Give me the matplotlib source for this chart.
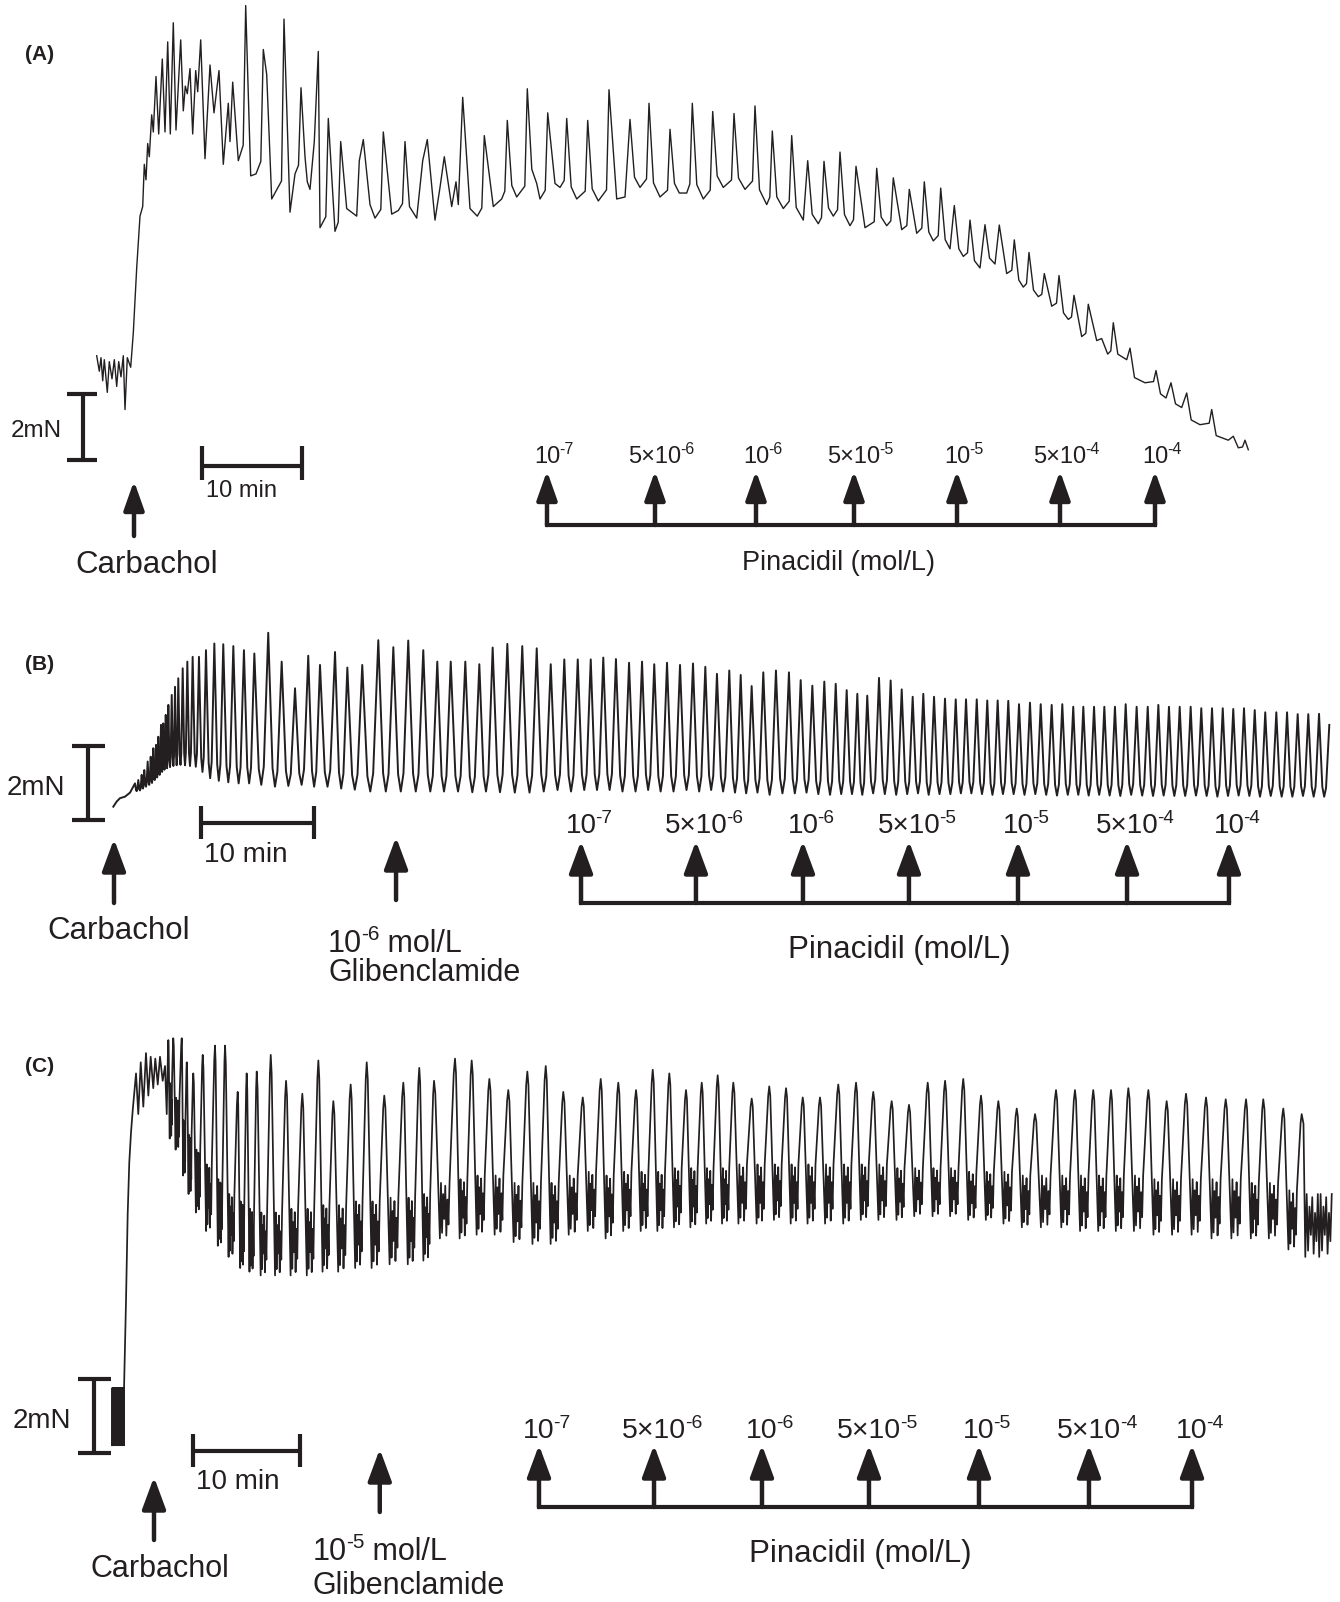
import matplotlib
matplotlib.use("Agg")
import matplotlib.pyplot as plt
import matplotlib.transforms as mtransforms

plt.rcParams['font.family'] = ['Liberation Sans', 'DejaVu Sans']

INK = '#231f20'

# ---------------- data (time in min from carbachol, force in mN) ----------------
# panel A: turning points of the trace
a_t = [-3.73, -3.47, -3.3, -3.13, -2.97, -2.67, -2.47, -2.2, -1.97, -1.73,
       -1.53, -1.3, -1.07, -0.9, -0.67, -0.33, -0.07, 0.27, 0.6, 0.87,
       1.03, 1.2, 1.37, 1.53, 1.77, 1.93, 2.2, 2.47, 2.83, 3.1,
       3.37, 3.63, 3.93, 4.2, 4.67, 4.93, 5.13, 5.33, 5.6, 5.87,
       6.17, 6.37, 6.67, 7.1, 7.6, 8.0, 8.5, 8.93, 9.43, 9.6,
       9.87, 10.43, 11.17, 11.67, 12.2, 12.93, 13.27, 13.77, 15.0, 15.6,
       16.1, 16.7, 17.1, 17.33, 17.6, 18.03, 18.43, 18.6, 19.43, 20.1,
       20.67, 21.27, 22.27, 22.53, 22.93, 23.6, 24.1, 24.93, 25.77, 26.43,
       27.1, 28.27, 28.87, 29.33, 30.1, 30.6, 31.03,
       31.77, 32.2, 32.43, 32.87, 33.6, 34.33, 35.03, 35.93, 36.77, 37.33,
       38.27, 39.33, 40.27, 40.6, 41.37, 42.1, 42.6, 43.27, 44.27, 45.37,
       46.43, 47.5, 48.27, 49.1, 49.6, 50.6, 51.5, 52.6, 53.6, 54.53,
       55.27, 55.83, 56.93, 57.87, 58.93, 60.0, 61.1, 62.1, 63.27, 63.83,
       64.93, 65.77, 66.93, 67.37, 68.43, 69.0, 69.93, 70.6, 71.6, 72.2,
       73.1, 74.27, 75.27,
       75.93, 76.77, 77.53, 78.27, 79.03, 79.93, 80.67, 81.6, 82.03, 82.93,
       83.6, 84.6, 85.1, 86.1, 86.53, 87.27, 88.03, 88.93, 89.5, 90.43,
       91.03, 91.77, 92.5, 93.43, 94.0, 94.77, 95.43, 96.27, 96.77, 97.37,
       97.93, 99.27, 99.6, 101.1, 102.2, 103.2, 103.7, 104.77, 105.27, 106.6,
       107.77, 109.43, 109.93, 110.43, 111.1, 111.43]
a_f = [3.16, 2.69, 3.10, 2.40, 3.04, 2.05, 2.98, 2.46, 3.04, 2.23,
       2.98, 2.52, 3.16, 1.53, 3.10, 2.81, 3.85, 5.82, 7.39, 7.68,
       8.96, 8.49, 9.59, 9.19, 10.46, 9.94, 11.62, 9.88, 12.15, 9.94,
       12.67, 9.88, 13.25, 10.0, 12.73, 10.58, 11.33, 11.1, 11.86, 9.88,
       11.8, 11.16, 12.73, 9.13, 11.97, 10.52, 11.8, 8.96, 10.81, 9.65,
       11.45, 9.07, 13.77, 8.61, 8.67, 12.44, 11.68, 7.91, 13.36, 7.51,
       8.67, 11.28, 9.19, 8.43, 8.2, 9.65, 12.38, 7.04, 10.35, 6.93,
       9.65, 7.62, 7.39, 9.07, 9.71, 7.74, 7.33, 9.94, 7.45, 7.56,
       9.65, 7.33, 9.07, 9.71, 7.27, 8.26, 9.19,
       7.68, 8.43, 7.74, 10.99, 7.62, 7.39, 9.83, 7.68, 7.91, 10.29,
       7.97, 11.25, 8.38, 7.91, 10.52, 8.38, 8.26, 10.35, 7.91, 10.29,
       7.85, 11.22, 7.91, 7.97, 10.32, 8.26, 10.81, 7.97, 10.02, 8.09,
       8.09, 10.81, 7.91, 10.56, 8.26, 10.5, 8.2, 10.73, 7.74, 9.97,
       7.62, 9.83, 7.27, 9.07, 7.16, 9.05, 7.39, 9.33, 7.1, 8.9,
       7.04, 8.84, 7.1,
       8.55, 6.98, 8.2, 6.87, 8.43, 6.64, 8.24, 6.4, 7.71, 6.17,
       7.27, 5.82, 7.13, 5.94, 7.12, 5.65, 6.67, 5.24, 6.29, 4.95,
       5.65, 4.66, 5.59, 4.26, 4.99, 3.74, 4.72, 3.62, 3.68, 3.21,
       4.16, 3.04, 3.39, 2.34, 2.71, 1.88, 2.34, 1.59, 2.03, 1.07,
       1.53, 0.6, 0.72, 0.37, 0.6, 0.31]

# panel B: start of trace, then every contraction (peak time, peak force, following trough)
b_start_t = [-0.06, 0.24, 0.53, 0.97, 1.42]
b_start_f = [0.36, 0.50, 0.59, 0.63, 0.74]
b_peak_t = [1.86, 2.15, 2.45, 2.68, 2.98, 3.25, 3.48, 3.72, 3.92, 4.16,
            4.36, 4.58, 4.81, 5.11, 5.40, 5.69, 6.08, 6.49, 6.96, 7.52,
            8.14, 8.88, 9.67, 10.56, 11.50, 12.42,
            13.65, 14.84, 16.02, 17.19, 18.23, 19.56, 20.65, 21.97, 23.39, 24.72,
            26.04, 27.37, 28.61, 29.80, 31.09, 32.33, 33.51, 34.81, 36.13,
            37.41, 38.65, 39.85, 41.04, 42.19, 43.30, 44.42, 45.58, 46.73, 47.81,
            48.94, 50.09, 51.24, 52.33, 53.36, 54.45, 55.46, 56.43, 57.46, 58.58,
            59.73, 60.77, 61.80, 62.86, 63.87, 64.84, 65.78, 66.66, 67.70, 68.73,
            69.71, 70.68, 71.62, 72.57, 73.54, 74.49,
            75.40, 76.35, 77.28, 78.20, 79.14, 80.09, 81.06, 82.01, 82.98, 83.92,
            84.89, 85.78, 86.73, 87.64, 88.58, 89.53, 90.50, 91.48, 92.42, 93.36,
            94.31, 95.28, 96.22, 97.17, 98.12, 99.05, 100.00, 100.95, 101.88, 102.86,
            103.81, 104.75, 105.69, 106.64, 107.55]
b_peak_f = [0.99, 1.08, 1.22, 1.35, 1.58, 1.71, 1.94, 2.03, 2.25, 2.57,
            2.61, 2.84, 3.11, 3.38, 3.60, 3.83, 4.10, 4.28, 4.41, 4.41,
            4.59, 4.77, 4.75, 4.70, 4.59, 4.50,
            5.06, 4.28, 3.56, 4.44, 4.19, 4.54, 4.12, 4.19, 4.86, 4.67,
            4.85, 4.59, 4.28, 4.28, 4.28, 4.21, 4.66, 4.76, 4.70,
            4.64, 4.21, 4.34, 4.34, 4.34, 4.39, 4.35, 4.25, 4.28, 4.21,
            4.25, 4.19, 4.23, 4.14, 3.95, 4.04, 3.92, 3.62, 3.99, 4.04,
            3.99, 3.78, 3.63, 3.74, 3.68, 3.51, 3.41, 3.36, 3.84, 3.77,
            3.53, 3.33, 3.41, 3.33, 3.28, 3.26,
            3.26, 3.26, 3.23, 3.23, 3.22, 3.13, 3.17, 3.13, 3.11, 3.13,
            3.06, 3.06, 3.06, 3.06, 3.06, 3.13, 3.06, 3.06, 3.11, 3.06,
            3.06, 3.06, 3.02, 3.02, 3.02, 3.00, 3.02, 2.97, 2.91, 2.91,
            2.91, 2.86, 2.86, 2.87, 2.57]
b_trough = [0.78, 0.80, 0.85, 0.90, 0.95, 1.00, 1.08, 1.15, 1.22, 1.30,
            1.36, 1.40, 1.43, 1.46, 1.48, 1.49, 1.48, 1.46, 1.44, 1.30,
            1.13, 1.06, 1.02, 0.99, 0.99, 0.95,
            0.90, 0.92, 0.95, 0.90, 0.90, 0.85, 0.82, 0.77, 0.77, 0.77,
            0.77, 0.77, 0.77, 0.77, 0.75, 0.77, 0.75, 0.74, 0.74,
            0.77, 0.81, 0.77, 0.81, 0.81, 0.81, 0.77, 0.77, 0.81, 0.77,
            0.77, 0.81, 0.77, 0.81, 0.77, 0.74, 0.72, 0.74, 0.68, 0.72,
            0.72, 0.74, 0.70, 0.68, 0.70, 0.70, 0.68, 0.72, 0.70, 0.68,
            0.70, 0.72, 0.68, 0.70, 0.70, 0.72,
            0.72, 0.70, 0.68, 0.70, 0.70, 0.68, 0.70, 0.68, 0.66, 0.68,
            0.68, 0.66, 0.68, 0.66, 0.65, 0.68, 0.66, 0.65, 0.66, 0.65,
            0.65, 0.66, 0.65, 0.63, 0.65, 0.66, 0.65, 0.63, 0.65, 0.63,
            0.63, 0.65, 0.63, 0.63, 0.63]

# panel C: resting noise, rise, then contractions with noisy troughs
c_pre_t = [-3.93, -2.80]
c_pre_f = [0.21, 1.76]
c_start_t = [-2.80, -2.62, -2.46, -2.31, -2.15, -1.99, -1.68, -1.47, -1.24, -1.00,
             -0.75, -0.53, -0.31, -0.07, 0.12, 0.35, 0.56, 0.81, 1.03, 1.19]
c_start_f = [1.76, 4.06, 6.46, 7.86, 8.66, 9.26, 10.26, 9.16, 10.56, 9.36,
             10.81, 9.66, 10.71, 9.86, 10.66, 9.96, 10.71, 10.06, 10.46, 9.16]
c_peak_t = [1.34, 1.80, 2.59, 3.06, 3.67, 4.55, 5.70, 6.64, 7.82, 8.66,
            9.60, 10.91, 12.34, 13.86, 15.36, 16.76, 18.38, 19.88, 21.52, 23.30,
            24.79, 26.17,
            28.13, 29.69, 31.34, 33.11, 34.89, 36.61, 38.25, 40.07, 41.75, 43.39,
            45.05, 46.61, 48.16, 49.72, 51.19, 52.68, 54.14, 55.86, 57.50, 59.07,
            60.63, 62.24, 63.95, 65.61, 67.22,
            68.94, 70.56, 72.31, 73.93, 75.63, 77.29, 78.91, 80.63, 82.34, 84.30,
            86.07, 87.78, 89.44, 91.06, 92.93, 94.64, 96.45, 98.32, 100.16, 102.06,
            103.67, 105.54, 107.26]
c_peak_f = [11.16, 11.21, 11.21, 10.56, 10.26, 10.76, 11.01, 11.01, 9.76, 10.26,
            10.31, 10.76, 10.06, 9.71, 10.61, 9.51, 9.96, 10.56, 9.66, 10.01,
            10.41, 10.06,
            10.66, 10.61, 10.11, 9.81, 10.31, 10.46, 9.76, 9.61, 10.11, 10.01,
            9.81, 10.36, 10.26, 9.81, 10.01, 10.21, 10.01, 9.58, 9.91, 9.86,
            9.61, 9.61, 9.96, 10.01, 9.76,
            9.51, 9.41, 10.01, 10.06, 10.11, 9.66, 9.51, 9.31, 9.16, 9.81,
            9.81, 9.81, 9.81, 9.86, 9.81, 9.51, 9.71, 9.61, 9.56, 9.56,
            9.56, 9.31, 9.16]
c_low = [8.5, 8.2, 7.5, 7.0, 6.5, 6.0, 5.6, 5.3, 5.0, 4.9,
         4.8, 4.8, 4.8, 4.8, 4.9, 4.9, 5.0, 5.0, 5.1, 5.1,
         5.2, 5.8,
         5.8, 5.9, 5.9, 5.7, 5.65, 5.65, 5.9, 6.0, 5.8, 6.0,
         6.0, 6.0, 6.1, 6.1, 6.2, 6.2, 6.2, 6.2, 6.3, 6.2,
         6.2, 6.2, 6.2, 6.3, 6.3,
         6.3, 6.4, 6.4, 6.4, 6.3, 6.3, 6.2, 6.1, 6.1, 6.1,
         6.0, 6.0, 6.0, 6.0, 5.9, 5.9, 5.9, 5.8, 5.8, 5.8,
         5.8, 5.5, 5.3]
c_ripple = [10.0, 9.6, 9.0, 8.6, 8.2, 7.8, 7.4, 7.0, 6.8, 6.6,
            6.5, 6.5, 6.6, 6.6, 6.7, 6.7, 6.8, 6.8, 6.9, 6.9,
            7.0, 7.3,
            7.4, 7.5, 7.5, 7.3, 7.3, 7.3, 7.5, 7.6, 7.5, 7.6,
            7.6, 7.6, 7.7, 7.7, 7.7, 7.7, 7.8, 7.8, 7.8, 7.8,
            7.8, 7.8, 7.8, 7.8, 7.8,
            7.7, 7.7, 7.7, 7.7, 7.6, 7.6, 7.6, 7.5, 7.5, 7.5,
            7.5, 7.5, 7.5, 7.5, 7.4, 7.4, 7.4, 7.4, 7.4, 7.3,
            7.3, 7.1, 7.0]
c_end_t = 110.07

# drug additions (min); concentration labels as (mantissa, exponent)
conc_base = ['10', '5×10', '10', '5×10', '10', '5×10', '10']
conc_exp = ['-7', '-6', '-6', '-5', '-5', '-4', '-4']
a_pin_t = [41.3, 52.1, 62.2, 72.0, 82.3, 92.6, 102.1]
b_pin_t = [41.33, 51.50, 60.97, 70.35, 80.00, 89.65, 98.67]
c_pin_t = [35.98, 46.73, 56.82, 66.82, 77.10, 87.38, 97.01]
b_glib_t = 24.96
c_glib_t = 21.1


# ---------------- figure ----------------
W, H = 1340, 1602
fig = plt.figure(figsize=(W / 100, H / 100), dpi=100)


def panel(top, bottom, tlim, flim):
    ax = fig.add_axes([0, 1 - bottom / H, 1, (bottom - top) / H])
    ax.set_xlim(*tlim)
    ax.set_ylim(*flim)
    ax.axis('off')
    return ax


axA = panel(0, 600, (-13.4, 120.6), (-4.2424, 13.9394))
axB = panel(600, 1020, (-10.088, 108.496), (-5.4054, 5.9459))
axC = panel(1020, 1602, (-14.393, 110.841), (-4.027, 11.703))
over = fig.add_axes([0, 0, 1, 1])
over.set_xlim(0, W)
over.set_ylim(H, 0)
over.axis('off')


def sharpen(ts, fs, rise=0.25, fall=0.45):
    # narrow the contraction spikes: rise/fall happen close to each maximum
    xs, ys = [ts[0]], [fs[0]]
    for i in range(1, len(ts) - 1):
        if fs[i] > fs[i - 1] and fs[i] > fs[i + 1]:
            if ts[i] - ts[i - 1] > 2 * rise:
                xs.append(ts[i] - rise)
                ys.append(fs[i - 1] + 0.1 * (fs[i] - fs[i - 1]))
            xs.append(ts[i])
            ys.append(fs[i])
            if ts[i + 1] - ts[i] > 2 * fall:
                xs.append(ts[i] + fall)
                ys.append(fs[i + 1] + 0.15 * (fs[i] - fs[i + 1]))
        else:
            xs.append(ts[i])
            ys.append(fs[i])
    xs.append(ts[-1])
    ys.append(fs[-1])
    return xs, ys


def spike_wave(t0, f0, pt, pf, tr, flat=0.12):
    xs, ys = list(t0), list(f0)
    for i in range(len(pt)):
        if i > 0:
            g = pt[i] - pt[i - 1]
            lo = tr[i - 1]
            xs += [pt[i - 1] + 0.32 * g, pt[i - 1] + 0.5 * g, pt[i - 1] + 0.68 * g]
            ys += [lo + flat * (pf[i - 1] - lo), lo, lo + flat * (pf[i] - lo)]
        xs.append(pt[i])
        ys.append(pf[i])
    return xs, ys


def zigzag(ta, tb, lo, hi, teeth):
    n = 2 * teeth
    xs = [ta + (tb - ta) * k / n for k in range(n + 1)]
    ys = [lo if k % 2 == 0 else hi for k in range(n + 1)]
    return xs, ys


def noisy_wave(pt, pf, low, rip, t_end):
    pattern = [0.0, 1.0, 0.1, 0.8, 0.35, 0.95, 0.05, 0.7, 0.25, 1.0]
    xs, ys = [], []
    n = len(pt)
    for i in range(n):
        last = i == n - 1
        gp = pt[i] - pt[i - 1] if i > 0 else pt[1] - pt[0]
        gn = (t_end - pt[i]) if last else pt[i + 1] - pt[i]
        rp_prev = rip[i - 1] if i > 0 else rip[0]
        xs += [pt[i] - 0.06 * gp, pt[i], pt[i] + 0.06 * gn]
        ys += [pf[i] - 0.12 * (pf[i] - rp_prev), pf[i], pf[i] - 0.12 * (pf[i] - rip[i])]
        pat = pattern * 2 if last else pattern
        a = pt[i] + (0.12 if last else 0.28) * gn
        b = t_end if last else pt[i] + 0.74 * gn
        for k, r in enumerate(pat):
            xs.append(a + (b - a) * k / (len(pat) - 1))
            ys.append(low[i] + r * (rip[i] - low[i]))
    return xs, ys


# traces
ax_, ay_ = sharpen(a_t, a_f)
axA.plot(ax_, ay_, color=INK, lw=1.0, solid_joinstyle='round')
bx, by = spike_wave(b_start_t, b_start_f, b_peak_t, b_peak_f, b_trough)
axB.plot(bx, by, color=INK, lw=1.4, solid_joinstyle='round')
px, py = zigzag(c_pre_t[0], c_pre_t[1], c_pre_f[0], c_pre_f[1], 14)
cx, cy = noisy_wave(c_peak_t, c_peak_f, c_low, c_ripple, c_end_t)
axC.plot(px + c_start_t + cx, py + c_start_f + cy, color=INK, lw=1.25,
         solid_joinstyle='round')


def scale_bars(ax, tv, cap_v, t_bar, f_bar, cap_h):
    kw = dict(color=INK, lw=3.0, solid_capstyle='butt')
    ax.plot([tv, tv], [0, 2], **kw)
    ax.plot(cap_v, [0, 0], **kw)
    ax.plot(cap_v, [2, 2], **kw)
    ax.plot([t_bar, t_bar + 10], [f_bar, f_bar], **kw)
    ax.plot([t_bar, t_bar], cap_h, **kw)
    ax.plot([t_bar + 10, t_bar + 10], cap_h, **kw)


scale_bars(axA, -5.1, [-6.7, -3.7], 6.8, -0.18, [0.42, -0.6])
scale_bars(axB, -2.30, [-3.72, -0.80], 7.70, -0.08, [0.38, -0.51])
scale_bars(axC, -5.61, [-7.10, -4.02], 3.64, 0.05, [0.51, -0.38])


def blend(ax):
    return mtransforms.blended_transform_factory(ax.transData, over.transData)


def up_arrow(ax, t, y_tip, y_base, hl=1.95, hw=0.72):
    tr = blend(ax)
    over.annotate('', xy=(t, y_tip), xycoords=tr, xytext=(t, y_base), textcoords=tr,
                  arrowprops=dict(arrowstyle='-|>,head_length=%g,head_width=%g' % (hl, hw),
                                  lw=3.2, color=INK, shrinkA=0, shrinkB=0,
                                  mutation_scale=10))


def sup_text(x, y, base, sup, fs, ha='center', transform=None, tail=None):
    b = over.text(x, y, base, ha=ha, va='baseline', fontsize=fs, color=INK,
                  transform=transform if transform is not None else over.transData)
    s = over.annotate(sup, xy=(1, 0.62), xycoords=b, xytext=(-0.9, 0),
                      textcoords='offset points', ha='left', va='baseline',
                      fontsize=fs * 0.68, color=INK)
    if tail:
        over.annotate(tail, xy=(1, 0), xycoords=(s, b), ha='left', va='bottom',
                      fontsize=fs, color=INK)


def pinacidil(ax, times, y_tip, y_base, y_lab, lab_fs, y_title, x_title, title_fs,
              hl=1.95, hw=0.72):
    tr = blend(ax)
    over.plot([times[0], times[-1]], [y_base, y_base], transform=tr, color=INK,
              lw=3.0, solid_capstyle='projecting')
    for t, bs, ex in zip(times, conc_base, conc_exp):
        up_arrow(ax, t, y_tip, y_base, hl, hw)
        sup_text(t, y_lab, bs, ex, lab_fs, transform=tr)
    over.text(x_title, y_title, 'Pinacidil (mol/L)', ha='center', va='center',
              fontsize=title_fs, color=INK)


def label(x, y, s, fs, ha='left', **kw):
    over.text(x, y, s, ha=ha, va='center', fontsize=fs, color=INK, **kw)


# panel A annotations
label(25, 54, '(A)', 15, weight='bold')
label(62, 431, '2mN', 17.5, ha='right')
label(206, 491, '10 min', 17)
up_arrow(axA, 0, 481, 536, 1.75, 0.62)
label(147, 565, 'Carbachol', 22.5, ha='center')
pinacidil(axA, a_pin_t, 471, 525, 463, 17, 563, 838, 19.5, 1.75, 0.62)

# panel B annotations
label(25, 665, '(B)', 15, weight='bold')
label(65, 788, '2mN', 20, ha='right')
label(204, 855, '10 min', 20)
up_arrow(axB, 0, 839, 903)
label(119, 931, 'Carbachol', 22.5, ha='center')
up_arrow(axB, b_glib_t, 837, 900)
sup_text(328, 952, '10', '-6', 22, ha='left', tail=' mol/L')
label(328, 973, 'Glibenclamide', 22)
pinacidil(axB, b_pin_t, 841, 903, 833, 20, 950, 899, 22.5)

# panel C annotations
label(25, 1066, '(C)', 15, weight='bold')
label(71, 1421, '2mN', 20, ha='right')
label(196, 1482, '10 min', 20)
up_arrow(axC, 0, 1477, 1540)
label(160, 1569, 'Carbachol', 22, ha='center')
up_arrow(axC, c_glib_t, 1449, 1512)
sup_text(313, 1560, '10', '-5', 22, ha='left', tail=' mol/L')
label(313, 1586, 'Glibenclamide', 22)
pinacidil(axC, c_pin_t, 1445, 1507, 1438, 20.5, 1554, 860, 22.5)

fig.savefig('out.png', dpi=100, facecolor='white')
